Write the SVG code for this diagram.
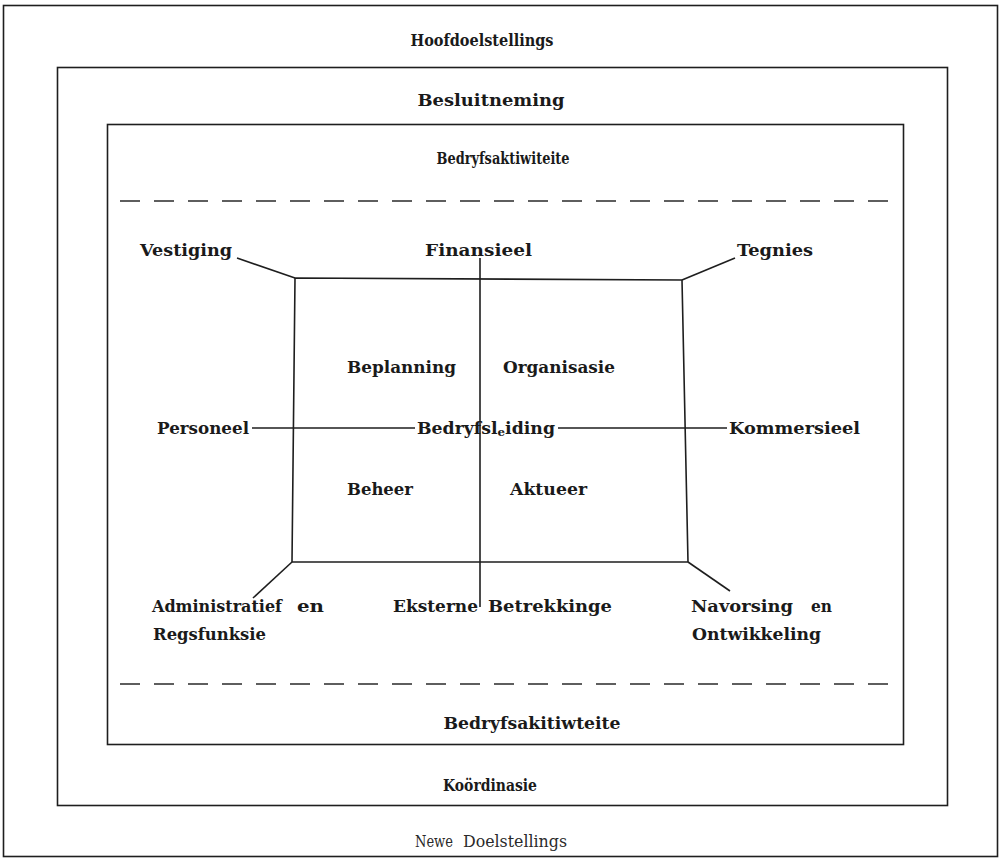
<svg xmlns="http://www.w3.org/2000/svg" width="1002" height="862" viewBox="0 0 1002 862">
  <style>
    .frame { fill: none; stroke: #1e1e1e; stroke-width: 1.6; }
    .dash { fill: none; stroke: #2a2a2a; stroke-width: 1.6; stroke-dasharray: 20 14; }
    .ln { fill: none; stroke: #1e1e1e; stroke-width: 1.6; }
    .hd { font-family: "DejaVu Serif Condensed", "DejaVu Serif", serif; font-weight: bold; font-size: 17px; fill: #1a1a1a; text-anchor: middle; }
    .lb { font-family: "DejaVu Serif", "Liberation Serif", serif; font-weight: bold; font-size: 16px; fill: #1a1a1a; }
    .lt { font-family: "DejaVu Serif Condensed", "DejaVu Serif", serif; font-size: 17px; fill: #2a2a2a; }
  </style>
  <rect width="1002" height="862" fill="#ffffff"/>

  <!-- nested frames -->
  <g id="frames">
    <rect class="frame" x="3.5" y="5.5" width="994" height="851" stroke-width="2"/>
    <rect class="frame" x="57.5" y="67.5" width="890" height="738"/>
    <rect class="frame" x="107.5" y="124.5" width="796" height="620"/>
    <line class="dash" x1="120" y1="201" x2="896" y2="201"/>
    <line class="dash" x1="120" y1="684" x2="896" y2="684"/>
  </g>

  <!-- frame headings -->
  <g id="headings">
    <text class="hd" x="482" y="46" textLength="143" lengthAdjust="spacingAndGlyphs">Hoofdoelstellings</text>
    <text class="hd" x="491" y="106" textLength="147" lengthAdjust="spacingAndGlyphs">Besluitneming</text>
    <text class="hd" x="503" y="164" textLength="133" lengthAdjust="spacingAndGlyphs">Bedryfsaktiwiteite</text>
    <text class="hd" x="532" y="729" textLength="177" lengthAdjust="spacingAndGlyphs">Bedryfsakitiwteite</text>
    <text class="hd" x="490" y="791" textLength="94" lengthAdjust="spacingAndGlyphs">Koördinasie</text>
    <text class="lt" x="415" y="847" textLength="38" lengthAdjust="spacingAndGlyphs">Newe</text>
    <text class="lt" x="463" y="847" textLength="104" lengthAdjust="spacingAndGlyphs">Doelstellings</text>
  </g>

  <!-- connectors -->
  <g id="connectors">
    <polygon class="ln" points="295,278 682,280 688,562 292,562"/>
    <line class="ln" x1="480" y1="258" x2="480" y2="607"/>
    <line class="ln" x1="252" y1="428" x2="415" y2="428"/>
    <line class="ln" x1="558" y1="428" x2="727" y2="428"/>
    <line class="ln" x1="237" y1="258" x2="295" y2="278"/>
    <line class="ln" x1="682" y1="280" x2="735" y2="258"/>
    <line class="ln" x1="292" y1="562" x2="253" y2="598"/>
    <line class="ln" x1="688" y1="562" x2="730" y2="591"/>
  </g>

  <!-- labels -->
  <g id="n-vestiging"><text class="lb" x="140" y="256" textLength="92" lengthAdjust="spacingAndGlyphs">Vestiging</text></g>
  <g id="n-finansieel"><text class="lb" x="425" y="256" textLength="107" lengthAdjust="spacingAndGlyphs">Finansieel</text></g>
  <g id="n-tegnies"><text class="lb" x="737" y="256" textLength="76" lengthAdjust="spacingAndGlyphs">Tegnies</text></g>
  <g id="n-beplanning"><text class="lb" x="347" y="373" textLength="109" lengthAdjust="spacingAndGlyphs">Beplanning</text></g>
  <g id="n-organisasie"><text class="lb" x="503" y="373" textLength="112" lengthAdjust="spacingAndGlyphs">Organisasie</text></g>
  <g id="n-personeel"><text class="lb" x="157" y="434" textLength="92" lengthAdjust="spacingAndGlyphs">Personeel</text></g>
  <g id="n-bedryfsleiding"><text class="lb" x="417" y="434" textLength="138" lengthAdjust="spacingAndGlyphs">Bedryfsl<tspan font-size="11" dy="2">e</tspan><tspan dy="-2">iding</tspan></text></g>
  <g id="n-kommersieel"><text class="lb" x="729" y="434" textLength="131" lengthAdjust="spacingAndGlyphs">Kommersieel</text></g>
  <g id="n-beheer"><text class="lb" x="347" y="495" textLength="66" lengthAdjust="spacingAndGlyphs">Beheer</text></g>
  <g id="n-aktueer"><text class="lb" x="510" y="495" textLength="77" lengthAdjust="spacingAndGlyphs">Aktueer</text></g>
  <g id="n-administratief">
    <text class="lb" x="152" y="612" textLength="130" lengthAdjust="spacingAndGlyphs">Administratief</text>
    <text class="lb" x="297" y="612" textLength="27" lengthAdjust="spacingAndGlyphs">en</text>
    <text class="lb" x="153" y="640" textLength="113" lengthAdjust="spacingAndGlyphs">Regsfunksie</text>
  </g>
  <g id="n-eksterne">
    <text class="lb" x="393" y="612" textLength="85" lengthAdjust="spacingAndGlyphs">Eksterne</text>
    <text class="lb" x="488" y="612" textLength="124" lengthAdjust="spacingAndGlyphs">Betrekkinge</text>
  </g>
  <g id="n-navorsing">
    <text class="lb" x="691" y="612" textLength="102" lengthAdjust="spacingAndGlyphs">Navorsing</text>
    <text class="lb" x="811" y="612" textLength="21" lengthAdjust="spacingAndGlyphs">en</text>
    <text class="lb" x="692" y="640" textLength="129" lengthAdjust="spacingAndGlyphs">Ontwikkeling</text>
  </g>
</svg>
